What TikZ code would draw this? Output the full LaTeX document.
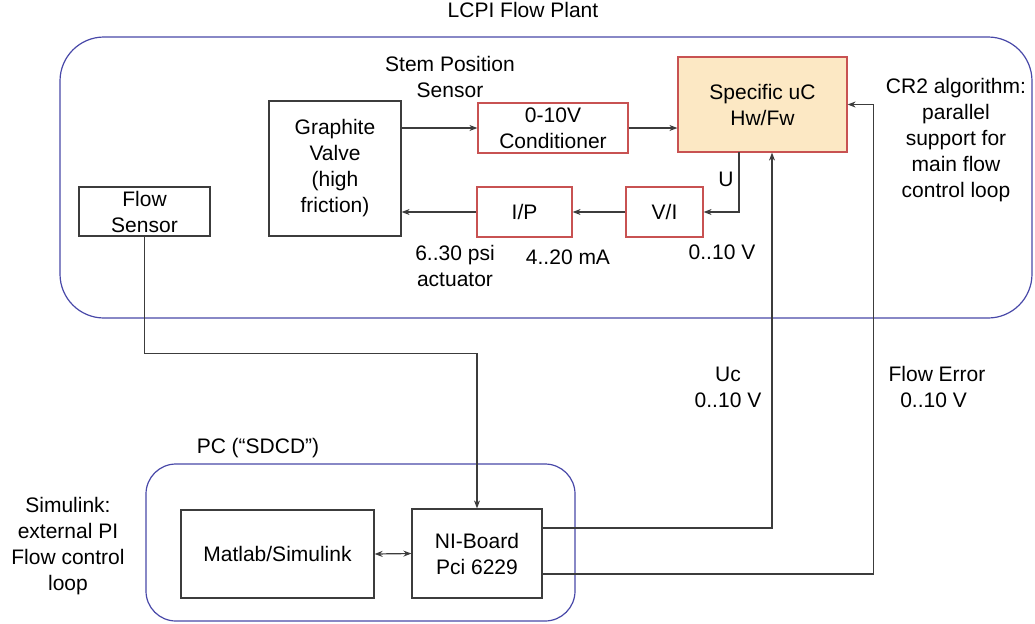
\documentclass[tikz,border=0pt]{standalone}
\usepackage{fontspec}
\setmainfont{Liberation Sans}
\usetikzlibrary{arrows.meta}

\definecolor{plantblue}{RGB}{72,72,168}
\definecolor{condred}{RGB}{200,82,82}
\definecolor{ucfill}{RGB}{252,232,196}
\definecolor{wire}{RGB}{60,60,60}

\tikzset{
  blk/.style={draw=wire, line width=0.6pt, align=center, inner sep=0pt},
  redblk/.style={blk, draw=condred},
  lbl/.style={align=center, inner sep=0pt},
  wireline/.style={draw=wire, line width=0.6pt},
  frame/.style={draw=plantblue, line width=0.6pt}
}

\begin{document}
\begin{tikzpicture}[x=0.5pt, y=-0.5pt, >={Stealth[length=4pt,width=3pt]},
    font=\fontsize{10.5}{13}\selectfont]
  \useasboundingbox (0,0) rectangle (1035,623);

  % plant and PC frames
  \draw[frame, rounded corners=22pt] (60,37) rectangle (1032,318);
  \draw[frame, rounded corners=15pt] (146,464) rectangle (575,621);
  \node[lbl] (plant) at (523,10) {LCPI Flow Plant};
  \node[lbl] (pc) at (258,448) {PC (“SDCD”)};

  % blocks
  \node[blk, minimum width=66pt, minimum height=67.5pt] (gv) at (335,168.5)
    {Graphite\\Valve\\(high\\friction)};
  \node[blk, minimum width=65.5pt, minimum height=24.5pt] (fs) at (144.5,211.5)
    {Flow\\Sensor};
  \node[redblk, minimum width=75pt, minimum height=25pt] (cond) at (553,128)
    {0-10V\\Conditioner};
  \node[redblk, fill=ucfill, minimum width=84.5pt, minimum height=47.5pt] (uc) at (762.5,104.5)
    {Specific uC\\Hw/Fw};
  \node[redblk, minimum width=47.5pt, minimum height=25pt] (ip) at (524.5,212) {I/P};
  \node[redblk, minimum width=38.5pt, minimum height=25pt] (vi) at (664.5,212) {V/I};
  \node[blk, minimum width=65pt, minimum height=44.5pt] (ni) at (477,553.5)
    {NI-Board\\Pci 6229};
  \node[blk, minimum width=96.5pt, minimum height=44pt] (ml) at (277.5,554)
    {Matlab/Simulink};

  % texts
  \node[lbl] (stem) at (450,77) {Stem Position\\Sensor};
  \node[lbl] (psi) at (455,266) {6..30 psi\\actuator};
  \node[lbl] (ma) at (568,257) {4..20 mA};
  \node[lbl] (vout) at (722,252) {0..10 V};
  \node[lbl] (u) at (726,179) {U};
  \node[lbl] (cr2) at (956,140) {CR2 algorithm:\\parallel\\support for\\main flow\\control loop};
  \node[lbl] (uc0) at (728,387) {Uc\\0..10 V};
  \node[lbl, align=left] (ferr) at (937,387) {Flow Error\\\ \ 0..10 V};
  \node[lbl] (sim) at (68,546) {Simulink:\\external PI\\Flow control\\loop};

  % connections
  \coordinate (uout) at (739,152);
  \draw[wireline, ->] (gv.east |- cond.west) -- (cond.west);
  \draw[wireline, ->] (cond.east) -- (uc.west |- cond.east);
  \draw[wireline, ->] (uout) |- (vi.east);
  \draw[wireline, ->] (vi.west) -- (ip.east);
  \draw[wireline, ->] (ip.west) -- (gv.east |- ip.west);
  \draw[wireline, ->] (fs.south) -- ++(0,117) -| (ni.north);
  \draw[wireline, <->] (ml.east) -- (ni.west);
  \draw[wireline, ->] ([yshift=12.75pt]ni.east) -| ([xshift=4.75pt]uc.south);
  \draw[wireline, ->] ([yshift=-10.25pt]ni.east) -| ([xshift=13pt]uc.east) -- (uc.east);
\end{tikzpicture}
\end{document}
